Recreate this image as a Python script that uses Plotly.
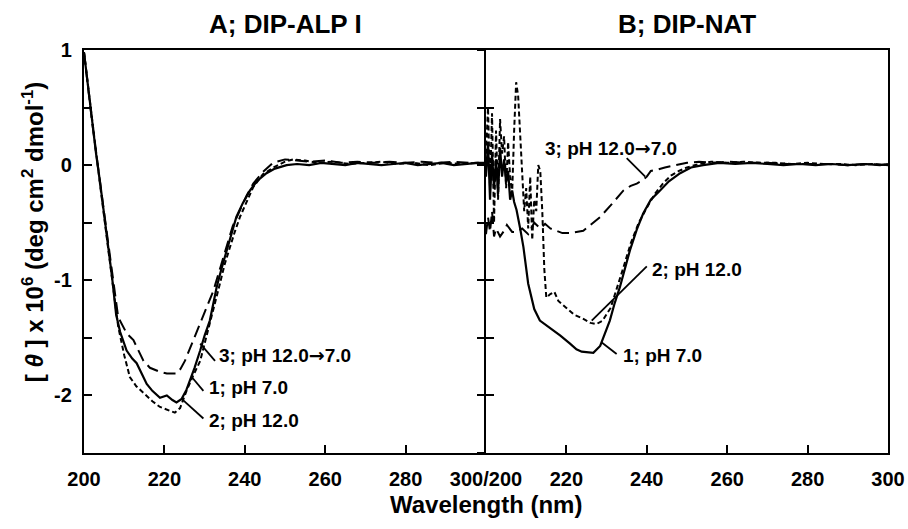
import plotly.graph_objects as go

# ---------------- data (wavelength nm, [theta] x 1e6) ----------------
A_PH7 = [(200,0.98),(201,0.68),(202,0.4),(203,0.1),(204,-0.15),(205,-0.42),(206,-0.7),(207,-0.98),
         (208,-1.3),(209,-1.45),(210.6,-1.61),(212,-1.68),(213.1,-1.72),(214.5,-1.82),(215.6,-1.9),
         (217,-1.96),(218.9,-2.02),(220.6,-2.0),(222,-2.04),(223,-2.06),(224.3,-2.03),(225.5,-1.95),
         (226.4,-1.87),(227.5,-1.76),(228.9,-1.61),(230,-1.48),(231.3,-1.35),(233,-1.06),(234.2,-0.9),
         (235.5,-0.74),(236.7,-0.6),(237.9,-0.45),(239.5,-0.33),(241.3,-0.22),(243,-0.14),(245.4,-0.07),
         (247.5,-0.03),(250.4,0.0),(253,0.01),(256,0.0),(259,0.02),(262,0.01),(265,0.0),(268,0.02),
         (271,0.01),(274,0.0),(277,0.01),(280,0.02),(283,0.0),(286,0.01),(289,0.02),(292,0.0),
         (295,0.01),(298,0.02),(300,0.01)]
A_PH12 = [(200,0.98),(202,0.38),(204,-0.17),(206,-0.72),(207.5,-1.1),(208.5,-1.4),(210,-1.65),
          (211.4,-1.84),(213,-1.92),(214.8,-1.98),(217,-2.05),(218.9,-2.1),(221,-2.13),(222.6,-2.15),
          (223.9,-2.11),(225.5,-1.96),(227,-1.84),(228.9,-1.7),(230,-1.55),(231.3,-1.38),(232.5,-1.2),
          (233.8,-1.03),(235,-0.86),(236.3,-0.71),(237.5,-0.58),(238.8,-0.45),(240.5,-0.31),
          (242.1,-0.19),(244.5,-0.08),(247.1,-0.02),(250,0.03),(252,0.05),(255,0.04),(258,0.02),
          (262,0.03),(266,0.01),(270,0.02),(274,0.03),(278,0.01),(282,0.02),(286,0.0),(290,0.02),
          (294,0.01),(298,0.02),(300,0.01)]
A_REV = [(200,0.98),(202,0.38),(204,-0.15),(206,-0.68),(207.5,-1.05),(208.5,-1.32),(210.6,-1.46),
         (212.3,-1.52),(214.8,-1.7),(216.4,-1.76),(218.5,-1.79),(220.6,-1.81),(223,-1.81),(224,-1.77),
         (225.1,-1.7),(227.2,-1.52),(229.7,-1.32),(232.2,-1.09),(234,-0.88),(235.5,-0.71),(237,-0.53),
         (238.8,-0.39),(240.5,-0.26),(242.1,-0.16),(244.5,-0.06),(247,0.02),(250,0.05),(253,0.04),
         (256,0.03),(260,0.04),(264,0.02),(268,0.03),(272,0.02),(276,0.03),(280,0.02),(284,0.03),
         (288,0.02),(292,0.03),(296,0.02),(300,0.02)]

B_PH7 = [(200,-0.1),(200.5,0.2),(201,-0.3),(201.5,0.1),(202,-0.2),(202.5,0.05),(203,-0.25),
         (203.5,0.15),(204,-0.1),(204.5,0.05),(205,-0.15),(205.5,-0.05),(206,-0.3),(206.5,-0.22),
         (207,-0.32),(207.6,-0.39),(208.5,-0.55),(209.3,-0.71),(210.5,-1.03),(212,-1.25),(213.4,-1.35),
         (215.9,-1.41),(218.5,-1.48),(220.9,-1.55),(222.5,-1.6),(223.8,-1.62),(226.7,-1.63),
         (228.4,-1.57),(229.5,-1.47),(230.8,-1.35),(232,-1.2),(233.3,-1.06),(235.8,-0.74),
         (237.5,-0.56),(239.1,-0.42),(241,-0.3),(243.3,-0.22),(245.5,-0.14),(248.3,-0.07),(251,-0.02),
         (254,0.0),(258,0.02),(262,0.01),(266,0.02),(270,0.01),(274,0.0),(278,0.01),(282,0.0),
         (286,0.01),(290,0.0),(294,0.01),(298,0.0),(300,0.01)]
B_PH12 = [(200,0.1),(200.5,0.5),(201,-0.2),(201.5,0.45),(202,-0.5),(202.5,0.3),(203,-0.3),(203.5,0.4),
          (204,0.1),(204.5,0.25),(205,-0.2),(205.5,0.2),(206,-0.1),(206.5,-0.25),(207,0.3),(207.5,0.72),
          (208,0.6),(208.5,0.3),(209,0.0),(209.5,-0.4),(210,-0.2),(210.5,-0.55),(211,-0.1),(211.5,-0.65),
          (212,-0.3),(212.5,-0.4),(213,0.0),(213.5,-0.05),(214,-0.4),(214.5,-0.9),(215,-1.15),
          (216,-1.12),(217,-1.1),(218,-1.18),(220,-1.24),(222,-1.3),(224,-1.33),(226,-1.37),
          (227.5,-1.38),(229,-1.35),(231,-1.24),(232.5,-1.08),(234,-0.91),(236,-0.68),(238,-0.5),
          (240,-0.37),(242,-0.25),(244,-0.16),(246,-0.09),(248,-0.05),(250,-0.02),(253,0.01),
          (256,0.03),(260,0.02),(264,0.03),(268,0.02),(272,0.02),(276,0.01),(280,0.02),(284,0.01),
          (288,0.01),(292,0.0),(296,0.01),(300,0.0)]
B_REV = [(200,-0.6),(200.5,-0.45),(201,-0.58),(201.5,-0.4),(202,-0.62),(202.5,-0.55),(203.5,-0.62),
         (204.5,-0.57),(205.2,-0.52),(206.5,-0.58),(207.6,-0.58),(209,-0.55),(210.5,-0.6),(212,-0.5),
         (213.5,-0.55),(214.7,-0.51),(216,-0.55),(217.6,-0.57),(219,-0.59),(220.9,-0.59),(222.5,-0.58),
         (224.2,-0.57),(226,-0.52),(228.4,-0.45),(231,-0.35),(234.2,-0.22),(236,-0.18),(237.5,-0.16),
         (239,-0.13),(240,-0.1),(241,-0.05),(242.5,-0.04),(244.5,-0.02),(247.8,0.0),(250,0.02),
         (253,0.03),(256,0.02),(260,0.03),(265,0.02),(270,0.02),(275,0.01),(280,0.01),(285,0.01),
         (290,0.0),(295,0.01),(300,0.0)]

PANEL_TITLES = ["A; DIP-ALP I", "B; DIP-NAT"]
X_TICKS = [200, 220, 240, 260, 280, 300]
X_TEXT_A = ["200", "220", "240", "260", "280", ""]
X_TEXT_B = ["300/200", "220", "240", "260", "280", "300"]
Y_TICKS = [-2.5, -2, -1.5, -1, -0.5, 0, 0.5, 1]
Y_TEXT = ["", "-2", "", "-1", "", "0", "", "1"]

ARROW = '<span style="font-family:DejaVu Sans">\u2192</span>'
# labels: (panel, text, text_x, text_y, leader x0, y0, x1, y1)
LABELS = [
    ("A", "3; pH 12.0" + ARROW + "7.0", 233.0, -1.65, 228.9, -1.55, 232.6, -1.70),
    ("A", "1; pH 7.0", 230.5, -1.93, 226.8, -1.84, 229.7, -1.96),
    ("A", "2; pH 12.0", 230.5, -2.22, 224.3, -2.03, 229.7, -2.20),
    ("B", "3; pH 12.0" + ARROW + "7.0", 214.3, 0.15, 235.0, 0.06, 239.6, -0.10),
    ("B", "2; pH 12.0", 240.8, -0.91, 240.0, -0.88, 226.3, -1.35),
    ("B", "1; pH 7.0", 233.7, -1.65, 228.8, -1.54, 232.5, -1.64),
]

FONT = "Liberation Sans, Arial, sans-serif"

fig = go.Figure()
styles = [("solid", 2.2), ("5px,3px", 2.0), ("12px,6px", 2.0)]
for series, (xa, ya) in [((A_PH7, A_PH12, A_REV), ("x", "y")), ((B_PH7, B_PH12, B_REV), ("x2", "y2"))]:
    for data, (dash, w) in zip(series, styles):
        fig.add_trace(go.Scatter(
            x=[p[0] for p in data], y=[p[1] for p in data], mode="lines",
            line=dict(color="black", width=w, dash=dash),
            xaxis=xa, yaxis=ya, showlegend=False, hoverinfo="skip"))
# invisible trace that carries the tick axis drawn on the divider (ticks pointing into panel A)
fig.add_trace(go.Scatter(x=[None], y=[None], xaxis="x2", yaxis="y3", showlegend=False,
                         hoverinfo="skip", mode="lines"))

axis_font = dict(family=FONT, size=20, color="black", weight="bold")
common_x = dict(range=[200, 300], tickvals=X_TICKS, ticks="inside", ticklen=8, tickwidth=1.5,
                tickcolor="black", showline=True, linecolor="black", linewidth=2.2, mirror=True,
                showgrid=False, zeroline=False, tickfont=axis_font, ticklabelstandoff=7,
                automargin=False)
common_y = dict(range=[-2.5, 1], tickvals=Y_TICKS, ticks="inside", ticklen=8, tickwidth=1.5,
                tickcolor="black", linecolor="black", linewidth=2.2,
                showgrid=False, zeroline=False, tickfont=axis_font, automargin=False)

fig.update_layout(
    width=908, height=529,
    margin=dict(l=84, r=20, t=50, b=76),
    paper_bgcolor="white", plot_bgcolor="white",
    xaxis=dict(domain=[0, 0.5], anchor="y", ticktext=X_TEXT_A, **common_x),
    xaxis2=dict(domain=[0.5, 1], anchor="y2", ticktext=X_TEXT_B, **common_x),
    yaxis=dict(anchor="x", ticktext=Y_TEXT, showline=True, mirror=False, ticklabelstandoff=6, **common_y),
    yaxis2=dict(anchor="x2", ticktext=Y_TEXT, showline=True, mirror=True, showticklabels=False, **common_y),
    yaxis3=dict(anchor="x2", overlaying="y2", side="left", range=[-2.5, 1], tickvals=Y_TICKS,
                ticks="outside", ticklen=8, tickwidth=1.5, tickcolor="black", showline=False,
                showgrid=False, zeroline=False, showticklabels=False, automargin=False),
)

ann = []
for i, t in enumerate(PANEL_TITLES):
    ann.append(dict(text=t, xref="paper", yref="paper", x=0.25 + 0.5 * i, y=1.065,
                    xanchor="center", yanchor="middle", showarrow=False,
                    font=dict(family=FONT, size=26, color="black", weight="bold")))
ann.append(dict(text="Wavelength (nm)", xref="paper", yref="paper", x=0.5, y=-0.129,
                xanchor="center", yanchor="middle", showarrow=False,
                font=dict(family=FONT, size=24, color="black", weight="bold")))
ann.append(dict(text="[ <i>\u03b8</i> ] x 10<sup>6</sup> (deg cm<sup>2</sup> dmol<sup>-1</sup>)",
                xref="paper", yref="paper", x=-0.0634, y=0.548, textangle=-90,
                xanchor="center", yanchor="middle", showarrow=False,
                font=dict(family=FONT, size=24, color="black", weight="bold")))

shapes = []
for panel, text, tx, ty, x0, y0, x1, y1 in LABELS:
    xr, yr = ("x", "y") if panel == "A" else ("x2", "y2")
    ann.append(dict(text=text, xref=xr, yref=yr, x=tx, y=ty, xanchor="left", yanchor="middle",
                    showarrow=False, font=dict(family=FONT, size=19, color="black", weight="bold")))
    shapes.append(dict(type="line", xref=xr, yref=yr, x0=x0, y0=y0, x1=x1, y1=y1,
                       line=dict(color="black", width=1.8)))

fig.update_layout(annotations=ann, shapes=shapes)
fig.write_html("out.html", config={"displayModeBar": False},
               post_script="document.body.style.margin='0';document.body.style.overflow='hidden';")
